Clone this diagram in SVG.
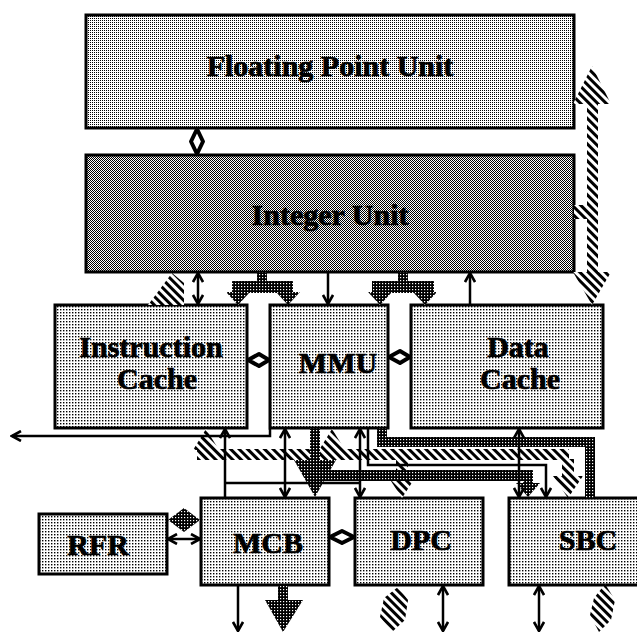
<svg xmlns="http://www.w3.org/2000/svg" width="637" height="632" viewBox="0 0 637 632">
<defs>
<pattern id="fp" width="2" height="2" patternUnits="userSpaceOnUse"><rect width="2" height="2" fill="#fff"/><rect width="1" height="1" fill="#000"/></pattern>
<pattern id="lt" width="3" height="3" patternUnits="userSpaceOnUse"><rect width="3" height="3" fill="#fff"/><rect width="1.4" height="1.4" fill="#000"/></pattern>
<pattern id="iu" width="2" height="2" patternUnits="userSpaceOnUse"><rect width="2" height="2" fill="#fff"/><rect width="1" height="1" fill="#000"/><rect x="1" y="1" width="1" height="1" fill="#000"/></pattern>
<pattern id="dk" width="3" height="3" patternUnits="userSpaceOnUse"><rect width="3" height="3" fill="#000"/><rect x="1" y="1" width="1.2" height="1.2" fill="#fff"/></pattern>
<pattern id="hatch" width="6" height="6" patternUnits="userSpaceOnUse" patternTransform="rotate(-45)"><rect width="6" height="6" fill="#fff"/><rect width="3" height="6" fill="#000"/></pattern>
<marker id="a" viewBox="0 0 12 12" refX="10" refY="6" markerWidth="12" markerHeight="12" markerUnits="userSpaceOnUse" orient="auto-start-reverse"><path d="M1,1 L10,6 L1,11" fill="none" stroke="#000" stroke-width="2.6"/></marker>
</defs>
<style>
.box{stroke:#000;stroke-width:3}
.lbl{font-family:"Liberation Serif","Times New Roman",serif;font-weight:bold;font-size:30px;text-anchor:middle;fill:#000;stroke:#000;stroke-width:0.7}
.ln{fill:none;stroke:#000;stroke-width:2.5}
.dbl{marker-start:url(#a);marker-end:url(#a)}
.end{marker-end:url(#a)}
.hat{fill:url(#hatch)}
.dk{fill:url(#dk)}
.dia{fill:#fff;stroke:#000;stroke-width:4;stroke-linejoin:round}
</style>
<rect width="637" height="632" fill="#fff"/>

<g id="fpu"><rect class="box" x="86" y="15" width="488" height="113" fill="url(#fp)"/><text class="lbl" x="330" y="76">Floating Point Unit</text></g>
<g id="iu"><rect class="box" x="86" y="155" width="488" height="117" fill="url(#iu)"/><text class="lbl" x="330" y="225">Integer Unit</text></g>
<g id="icache"><rect class="box" x="55" y="305" width="192" height="123" fill="url(#lt)"/><text class="lbl" x="151" y="357">Instruction</text><text class="lbl" x="157" y="389">Cache</text></g>
<g id="mmu"><rect class="box" x="270" y="305" width="118" height="123" fill="url(#lt)"/><text class="lbl" x="338" y="373">MMU</text></g>
<g id="dcache"><rect class="box" x="411" y="305" width="192" height="123" fill="url(#lt)"/><text class="lbl" x="518" y="357">Data</text><text class="lbl" x="520" y="389">Cache</text></g>
<g id="rfr"><rect class="box" x="39" y="514" width="128" height="60" fill="url(#lt)"/><text class="lbl" x="98" y="555">RFR</text></g>
<g id="mcb"><rect class="box" x="201" y="498" width="128" height="87" fill="url(#lt)"/><text class="lbl" x="268" y="553">MCB</text></g>
<g id="dpc"><rect class="box" x="355" y="498" width="128" height="87" fill="url(#lt)"/><text class="lbl" x="421" y="550">DPC</text></g>
<g id="sbc"><rect class="box" x="509" y="498" width="140" height="87" fill="url(#lt)"/><text class="lbl" x="588" y="550">SBC</text></g>

<g id="connectors">
<rect class="hat" x="587" y="100" width="11" height="175"/>
<polygon class="hat" points="592,66 611,104 573,104"/>
<polygon class="hat" points="573,272 611,272 592,305"/>
<polygon class="hat" points="574,205 588,205 588,219 574,219"/>
<polygon class="hat" points="148,305 184,305 184,283 172,273"/>
<rect class="hat" x="197" y="449" width="372" height="11"/>
<polygon class="hat" points="193,450 219,450 206,429"/>
<polygon class="hat" points="319,450 345,450 332,429"/>
<rect class="hat" x="396" y="459" width="12" height="21"/>
<polygon class="hat" points="389,478 415,478 402,498"/>
<rect class="hat" x="562" y="459" width="12" height="19"/>
<polygon class="hat" points="553,476 583,476 568,498"/>
<polygon class="hat" points="398,587 408,600 405,620 392,632 380,617 384,598"/>
<polygon class="hat" points="605,584 615,600 611,620 599,632 590,615 594,598"/>

<rect class="dk" x="257" y="272" width="10" height="11"/>
<rect class="dk" x="232" y="281" width="61" height="12"/>
<polygon class="dk" points="226,292 250,292 238,305"/>
<polygon class="dk" points="276,292 300,292 288,305"/>
<rect class="dk" x="398" y="272" width="10" height="11"/>
<rect class="dk" x="372" y="281" width="62" height="12"/>
<polygon class="dk" points="368,292 392,292 380,305"/>
<polygon class="dk" points="413,292 437,292 425,305"/>
<rect class="dk" x="310" y="428" width="10" height="34"/>
<polygon class="dk" points="294,460 336,460 315,497"/>
<rect class="dk" x="320" y="470" width="213" height="11"/>
<rect class="dk" x="523" y="470" width="10" height="14"/>
<polygon class="dk" points="516,483 540,483 528,497"/>
<polygon class="dk" points="377,428 387,428 387,437 595,437 595,498 585,498 585,447 377,447"/>
<rect class="dk" x="278" y="585" width="10" height="16"/>
<polygon class="dk" points="265,600 303,600 283,632"/>
<polygon class="dk" points="168,520 184,508 200,520 184,532"/>

<line class="ln dbl" x1="198" y1="273" x2="198" y2="304"/>
<line class="ln end" x1="328" y1="273" x2="328" y2="304"/>
<line class="ln end" x1="470" y1="304" x2="470" y2="273"/>
<polyline class="ln end" points="270,429 270,436 12,436"/>
<line class="ln end" x1="225" y1="498" x2="225" y2="429"/>
<line class="ln dbl" x1="285" y1="429" x2="285" y2="497"/>
<line class="ln" x1="225" y1="483" x2="360" y2="483"/>
<line class="ln dbl" x1="360" y1="429" x2="360" y2="497"/>
<polyline class="ln end" points="368,429 368,465 546,465 546,497"/>
<line class="ln dbl" x1="519" y1="429" x2="519" y2="497"/>
<line class="ln end" x1="238" y1="586" x2="238" y2="631"/>
<line class="ln dbl" x1="443" y1="586" x2="443" y2="631"/>
<line class="ln dbl" x1="539" y1="586" x2="539" y2="631"/>
<line class="ln dbl" x1="168" y1="539" x2="200" y2="539"/>

<polygon class="dia" points="197,129 203,141.5 197,154 191,141.5"/>
<polygon class="dia" points="248,360 259,354 269,360 259,366"/>
<polygon class="dia" points="389,357 400,351 410,357 400,363"/>
<polygon class="dia" points="330,537 342,531 354,537 342,543"/>
</g>
</svg>
